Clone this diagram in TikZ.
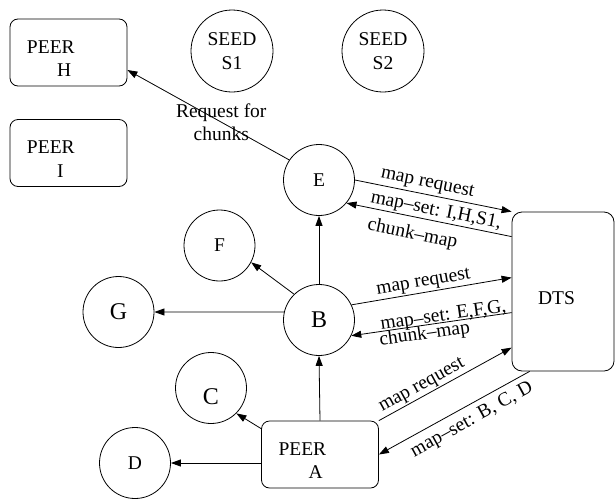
\documentclass[tikz,border=0pt]{standalone}
\usepackage{fontspec}
\setmainfont{Liberation Serif}
\usetikzlibrary{arrows.meta}

\tikzstyle{peer}=[draw,rounded corners=8pt,minimum width=117pt,minimum height=67pt,inner xsep=17pt,inner ysep=0pt,text width=83pt,align=left,text height=24.5pt,text depth=23.5pt]
\tikzstyle{station}=[draw,circle,minimum size=71pt,inner sep=0pt]
\tikzstyle{seed}=[draw,circle,minimum size=82pt,inner sep=0pt,align=center]
\tikzstyle{tracker}=[draw,rounded corners=10pt,minimum width=102pt,minimum height=159pt,inner xsep=26pt,inner ysep=0pt,text width=50pt,align=left,text height=25pt,text depth=0pt]
\tikzstyle{big}=[font=\fontsize{24}{28}\selectfont]
\tikzstyle{edge} = [draw,-{Triangle[length=10pt,width=7pt]}]
\tikzstyle{msg} = [inner sep=1pt,sloped]

\begin{document}
\begin{tikzpicture}[x=1pt,y=-1pt,line width=0.8pt,every node/.style={font=\fontsize{19.5}{23.5}\selectfont}]
                              \useasboundingbox (0,0) rectangle (615,498);
                              % First we draw the peers, the seeds and the tracker
                              \foreach \pos/\name in {{(68.5,52.5)/H}, {(68.5,153)/I}, {(320,454.5)/A}}
                                    \node[peer] (\name) at \pos {PEER\\\hspace*{30pt}\name};
                              \foreach \pos/\name in {{(232,51)/S1}, {(383,51)/S2}}
                                    \node[seed] (\name) at \pos {SEED\\\name};
                              \foreach \pos/\name in {{(319,180)/E}, {(219.5,245.5)/F}, {(135,463)/D}}
                                    \node[station] (\name) at \pos {\name};
                              \foreach \pos/\name in {{(319,320)/B}, {(118.5,312)/G}}
                                    \node[station,big] (\name) at \pos {\name};
                              \node[station,big,text height=32pt,text depth=0pt] (C) at (211,388) {C};
                              \node[tracker] (DTS) at (563,291.5) {DTS};
                              % Connect the peers
                              \path[edge] (E.146) -- node[pos=.42,align=center]{Request for\\chunks} ([shift={(0,17.5)}]H.east);
                              \path[edge] (B.north) -- (E.south);
                              \path[edge] (B.134) -- (F.-28);
                              \path[edge] (B.167) -- (G.east);
                              \path[edge] (A.north) -- (B.south);
                              \path[edge] ([shift={(0,8)}]A.north west) -- (C.-45);
                              \path[edge] (A.west |- D.east) -- (D.east);
                              % Map requests to the tracker and the answers
                              \path[edge] (E.east) -- node[msg,above=1.5pt,pos=.45]{map request} (DTS.north west);
                              \path[edge] ([shift={(0,25)}]DTS.north west) -- node[msg,above=0pt,pos=.47]{map--set: I,H,S1,} node[msg,below=7pt,pos=.58]{chunk--map} (E.-40);
                              \path[edge] (B.25) -- node[msg,above=.5pt,pos=.46]{map request} ([shift={(0,66)}]DTS.north west);
                              \path[edge] ([shift={(0,101)}]DTS.north west) -- node[msg,above=-4pt,pos=.42]{map--set: E,F,G,} node[msg,below=-1pt,pos=.55]{chunk--map} (B.-26);
                              \path[edge] (A.north east) -- node[msg,above=.5pt,pos=.36]{map request} ([shift={(0,136)}]DTS.north west);
                              \path[edge] ([shift={(18,0)}]DTS.south west) -- node[msg,below=5pt,pos=.43]{map--set: B, C, D} (A.east);
                        \end{tikzpicture}
\end{document}
